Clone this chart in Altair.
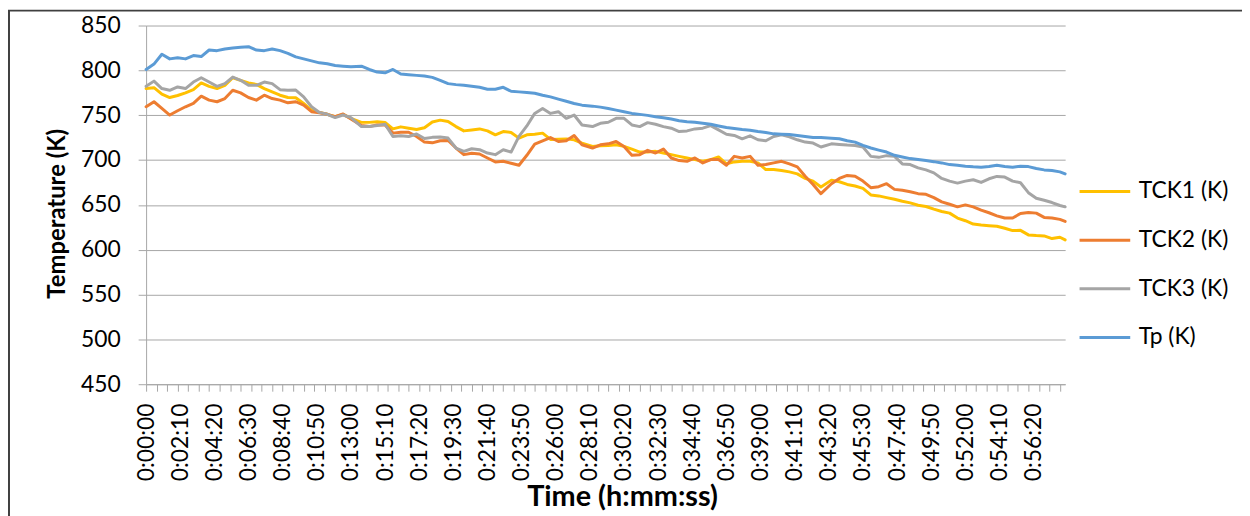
import altair as alt
import pandas as pd

# Sample times (seconds from start) at which the curves were read
TIME_S = [0, 30, 60, 90, 120, 150, 180, 210, 240, 270, 300, 330, 360, 390, 420, 450, 480, 510,
          540, 570, 600, 630, 660, 690, 720, 750, 780, 820, 850, 880, 910, 940, 970, 1000, 1030,
          1060, 1090, 1120, 1150, 1180, 1210, 1240, 1270, 1300, 1330, 1360, 1390, 1420, 1450,
          1480, 1510, 1540, 1570, 1600, 1630, 1660, 1700, 1730, 1760, 1790, 1820, 1850, 1880,
          1910, 1940, 1970, 2000, 2030, 2060, 2090, 2120, 2150, 2180, 2210, 2240, 2270, 2300,
          2330, 2360, 2390, 2420, 2450, 2480, 2510, 2540, 2570, 2610, 2640, 2670, 2700, 2730,
          2760, 2790, 2820, 2850, 2880, 2910, 2940, 2970, 3000, 3030, 3060, 3090, 3120, 3150,
          3180, 3210, 3240, 3270, 3300, 3330, 3360, 3390, 3420, 3450, 3480, 3500]

TCK1 = [779.7, 780.7, 773.4, 769.7, 772.0, 774.9, 778.5, 786.0, 782.2, 779.7, 783.3, 791.8, 788.9,
        786.0, 784.4, 779.7, 776.0, 772.3, 769.7, 769.5, 763.1, 755.7, 753.1, 751.0, 748.4, 751.0,
        746.5, 742.0, 742.0, 742.8, 742.0, 734.7, 737.0, 735.5, 734.0, 736.0, 742.5, 744.5, 743.0,
        737.3, 732.5, 733.6, 734.7, 732.5, 728.1, 731.8, 730.7, 724.4, 728.1, 728.8, 730.0, 723.0,
        723.3, 723.6, 722.6, 718.9, 715.2, 716.0, 716.3, 717.0, 715.2, 712.2, 708.9, 708.9, 709.7,
        707.8, 706.0, 704.1, 702.3, 700.5, 698.6, 700.5, 703.4, 695.7, 697.9, 698.6, 698.6, 696.8,
        689.4, 689.4, 688.3, 686.8, 684.6, 679.5, 676.5, 669.9, 677.6, 675.8, 672.8, 671.0, 668.4,
        661.1, 660.0, 658.1, 656.3, 654.0, 652.2, 649.6, 648.2, 645.2, 642.6, 640.8, 635.3, 632.3,
        628.6, 627.5, 626.8, 626.1, 623.9, 621.3, 621.6, 616.5, 615.8, 615.4, 612.4, 613.9, 611.0]

TCK2 = [759.4, 765.0, 757.6, 750.2, 755.0, 759.4, 763.1, 771.2, 766.8, 765.0, 768.6, 777.8, 774.9,
        769.7, 766.8, 772.3, 768.6, 766.8, 763.8, 765.0, 761.2, 753.9, 752.8, 751.0, 748.4, 751.3,
        745.8, 738.4, 737.3, 739.2, 739.2, 730.0, 731.0, 731.0, 726.3, 720.0, 719.2, 721.5, 721.8,
        713.4, 706.0, 707.5, 706.7, 702.3, 697.9, 698.6, 696.4, 694.2, 705.3, 717.8, 721.5, 725.1,
        720.7, 721.5, 727.4, 717.0, 713.4, 717.0, 718.1, 720.7, 715.2, 705.3, 706.0, 710.8, 707.8,
        712.2, 702.3, 699.4, 698.6, 702.3, 696.8, 700.5, 700.5, 694.2, 704.1, 702.3, 704.1, 694.2,
        695.0, 696.8, 698.6, 695.7, 692.4, 682.0, 672.8, 662.5, 673.6, 679.5, 682.8, 682.0, 676.5,
        669.2, 670.3, 673.6, 667.3, 666.2, 664.7, 662.5, 661.8, 658.1, 653.3, 650.7, 647.8, 650.0,
        647.8, 644.1, 641.2, 637.8, 635.3, 635.3, 640.4, 641.5, 640.8, 636.0, 635.3, 633.8, 631.6]

TCK3 = [782.2, 788.0, 779.7, 777.8, 781.5, 779.7, 787.0, 791.8, 787.0, 782.2, 785.2, 792.5, 788.9,
        783.3, 783.3, 787.0, 785.2, 778.5, 777.8, 778.0, 770.5, 759.4, 753.1, 751.0, 747.3, 750.2,
        747.3, 737.3, 737.3, 738.4, 739.9, 726.3, 727.0, 726.3, 729.0, 724.0, 725.3, 725.8, 724.5,
        713.4, 709.7, 712.6, 711.5, 707.8, 706.0, 711.5, 708.9, 726.3, 738.0, 752.0, 757.5, 752.0,
        753.9, 746.5, 750.2, 739.1, 737.3, 741.0, 742.1, 746.5, 746.5, 739.1, 737.3, 741.7, 739.9,
        737.3, 735.5, 731.8, 732.5, 734.7, 735.5, 738.4, 733.6, 728.8, 727.4, 723.7, 727.0, 722.6,
        721.5, 726.3, 728.1, 725.9, 722.6, 720.0, 718.9, 714.5, 718.1, 717.4, 716.7, 716.3, 714.5,
        704.1, 703.0, 704.9, 704.1, 695.7, 695.0, 691.3, 689.0, 685.7, 679.5, 676.5, 674.3, 676.5,
        678.0, 675.0, 679.1, 681.7, 681.0, 676.5, 674.7, 663.6, 657.4, 655.2, 652.6, 649.3, 647.8]

TP = [801.0, 807.0, 818.0, 812.8, 814.0, 812.8, 816.5, 815.4, 822.7, 822.0, 823.9, 825.0, 825.7,
      826.4, 822.7, 822.0, 823.9, 822.0, 819.0, 815.0, 812.8, 810.6, 808.4, 807.3, 805.4, 804.7,
      804.0, 804.7, 801.0, 798.1, 797.3, 801.0, 795.9, 795.1, 794.4, 793.7, 792.2, 788.9, 785.2,
      784.1, 783.4, 782.2, 781.1, 778.9, 778.9, 781.1, 776.7, 776.0, 775.2, 774.5, 772.3, 770.4,
      767.9, 765.6, 763.1, 761.2, 760.1, 759.0, 757.5, 755.7, 753.9, 752.0, 750.9, 749.8, 748.3,
      747.2, 745.8, 743.9, 742.8, 742.1, 741.0, 739.9, 738.0, 736.2, 735.1, 734.0, 733.2, 731.8,
      730.7, 729.2, 728.8, 728.5, 727.4, 726.3, 725.1, 725.1, 724.4, 723.7, 721.5, 720.0, 716.3,
      713.4, 711.1, 708.9, 705.3, 703.4, 701.6, 700.5, 699.4, 698.2, 696.8, 694.9, 694.2, 693.1,
      692.4, 692.0, 692.7, 694.2, 692.7, 692.0, 693.1, 692.7, 690.5, 689.0, 688.3, 686.8, 684.6]

SERIES_NAMES = ["TCK1 (K)", "TCK2 (K)", "TCK3 (K)", "Tp (K)"]
SERIES_COLORS = ["#FFC000", "#ED7D31", "#A5A5A5", "#5B9BD5"]

X_TICK_LABELS = ["0:00:00", "0:02:10", "0:04:20", "0:06:30", "0:08:40", "0:10:50", "0:13:00",
                 "0:15:10", "0:17:20", "0:19:30", "0:21:40", "0:23:50", "0:26:00", "0:28:10",
                 "0:30:20", "0:32:30", "0:34:40", "0:36:50", "0:39:00", "0:41:10", "0:43:20",
                 "0:45:30", "0:47:40", "0:49:50", "0:52:00", "0:54:10", "0:56:20"]
Y_TICKS = [450, 500, 550, 600, 650, 700, 750, 800, 850]


def to_sec(s):
    h, m, sec = s.split(":")
    return int(h) * 3600 + int(m) * 60 + int(sec)


label_vals = [to_sec(s) for s in X_TICK_LABELS]
minor_tick_vals = list(range(0, 3501, 40))

rows = []
for name, vals in zip(SERIES_NAMES, [TCK1, TCK2, TCK3, TP]):
    assert len(vals) == len(TIME_S)
    for t, v in zip(TIME_S, vals):
        rows.append({"t": t, "v": v, "series": name})
df = pd.DataFrame(rows)

GRID = "#a6a6a6"
FONT = "Lato"
W, H = 925, 361
PAD_L, PAD_T = 139, 16

xscale = alt.Scale(domain=[0, 3500], nice=False, zero=False)

label_expr = ("floor(datum.value/3600) + ':' + (floor(datum.value/60)%60 < 10 ? '0' : '') + "
              "floor(datum.value/60)%60 + ':' + (datum.value%60 < 10 ? '0' : '') + datum.value%60")

lines = alt.Chart(df).mark_line(strokeWidth=3, strokeJoin="round", strokeCap="round").encode(
    x=alt.X("t:Q", scale=xscale,
            axis=alt.Axis(orient="bottom", values=label_vals, labelExpr=label_expr,
                          labelAngle=270, labelFontSize=23, labelColor="black",
                          labelPadding=19, labelOverlap=False, labelFlush=False,
                          ticks=False, domain=False, grid=False,
                          title="Time (h:mm:ss)", titleFontSize=29, titleFontWeight="bold",
                          titleColor="black", titleX=479, titleY=113, titleAlign="center",
                          titleBaseline="middle")),
    y=alt.Y("v:Q", scale=alt.Scale(domain=[450, 850], nice=False, zero=False),
            axis=alt.Axis(values=Y_TICKS, grid=True, gridColor=GRID, gridWidth=1,
                          domain=True, domainColor=GRID, tickColor=GRID, tickSize=8,
                          labelFontSize=23, labelColor="black", labelPadding=18,
                          title="Temperature (K)", titleFontSize=24, titleFontWeight="bold",
                          titleColor="black", titleX=-89, titleY=189, titleAngle=270,
                          titleAlign="center", titleBaseline="middle")),
    color=alt.Color("series:N", scale=alt.Scale(domain=SERIES_NAMES, range=SERIES_COLORS),
                    legend=alt.Legend(title=None, orient="none", legendX=938, legendY=140,
                                      symbolType="stroke", symbolSize=2601,
                                      symbolStrokeWidth=3, labelFontSize=23,
                                      labelColor="black", labelOffset=7, rowPadding=10,
                                      padding=0)),
    order=alt.Order("t:Q"),
)

ticks_layer = alt.Chart(alt.Data(values=[{"t": v} for v in minor_tick_vals])).mark_point(
    opacity=0).encode(
    x=alt.X("t:Q", scale=xscale,
            axis=alt.Axis(orient="bottom", values=minor_tick_vals, labels=False, ticks=True,
                          tickSize=7, tickColor=GRID, domain=True, domainColor=GRID,
                          grid=False, title=None)),
    y=alt.value(0),
)

frame = alt.Chart(alt.Data(values=[{"a": 1}])).mark_rect(
    fill="white", fillOpacity=0, stroke="#404040", strokeWidth=2).encode(
    x=alt.value(1 - PAD_L), x2=alt.value(1400), y=alt.value(1 - PAD_T), y2=alt.value(700))

chart = alt.layer(frame, ticks_layer, lines).resolve_axis(x="independent").properties(
    width=W, height=H,
    autosize=alt.AutoSizeParams(type="none"),
    padding={"left": PAD_L, "top": PAD_T, "right": 1242 - PAD_L - W, "bottom": 508 - PAD_T - H},
    background="white",
).configure_view(stroke=None).configure_axis(labelFont=FONT, titleFont=FONT).configure_legend(
    labelFont=FONT)

chart.save("out.html", embed_options={"renderer": "svg", "actions": False})
